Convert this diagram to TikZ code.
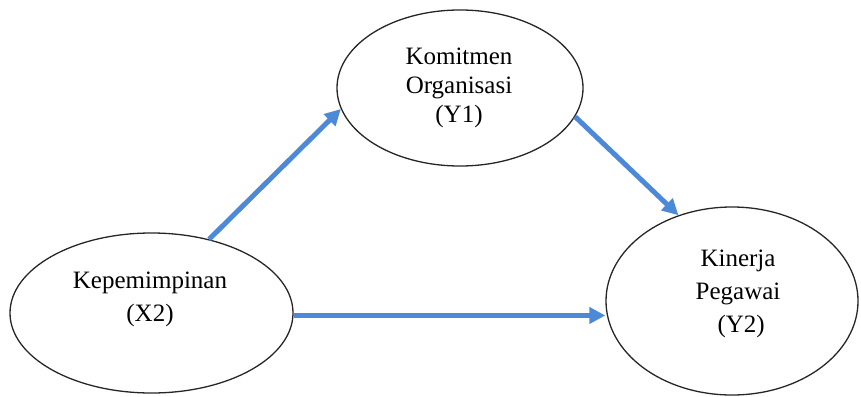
\documentclass[tikz,border=0pt]{standalone}
\usepackage{fontspec}
\setmainfont{Liberation Serif}
\usetikzlibrary{shapes.geometric,arrows.meta}
\definecolor{arrowblue}{RGB}{76,137,214}
\tikzset{
  oval/.style={draw=black!85,line width=1.3pt,ellipse,inner sep=0pt},
  lbl/.style={align=center,inner sep=0pt,font=\fontsize{25}{33}\selectfont},
  link/.style={draw=arrowblue,line width=5pt,-{Triangle[length=16pt,width=16pt]}}
}
\begin{document}
\begin{tikzpicture}[x=1pt,y=-1pt]
\useasboundingbox (0,0) rectangle (861,396);
\node[oval,minimum width=246pt,minimum height=156pt] (y1) at (460,88) {};
\node[oval,minimum width=283pt,minimum height=160pt] (x2) at (151.5,313) {};
\node[oval,minimum width=252pt,minimum height=188pt] (y2) at (732,301) {};
\node[lbl,font=\fontsize{25}{29}\selectfont] (ty1) at (459,87.75) {Komitmen\\Organisasi\\(Y1)};
\node[lbl] (tx2) at (150,299.25) {Kepemimpinan\\(X2)};
\node[lbl] (ty2) at (738,293.75) {Kinerja\\Pegawai\\\ (Y2)};
\draw[link] (x2.52) -- (y1.190);
\draw[link] (y1.-14.6) -- (y2.122);
\draw[link] (x2.-1) -- (x2.-1 -| y2.west);
\end{tikzpicture}
\end{document}
